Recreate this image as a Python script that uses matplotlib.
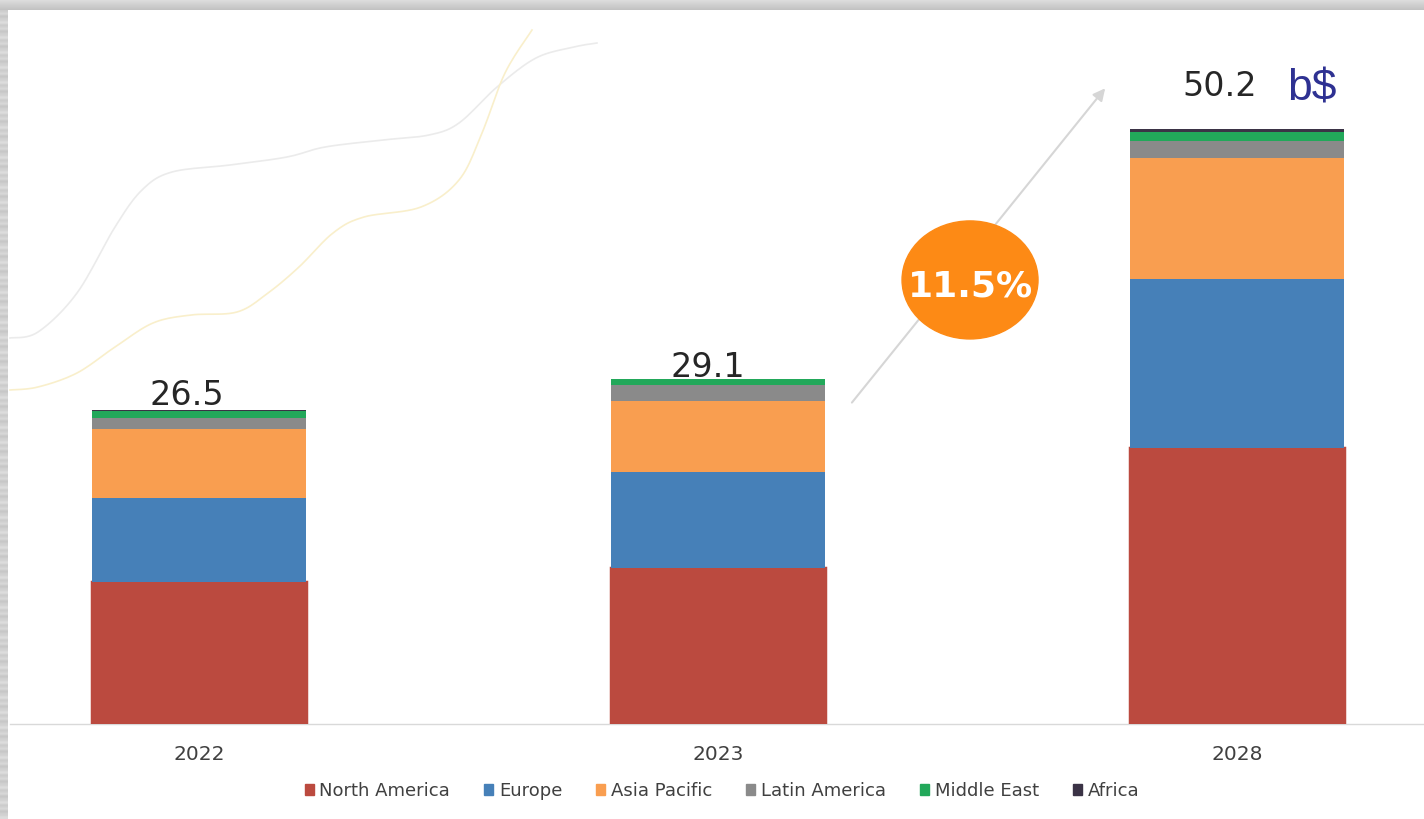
import numpy as np
import matplotlib
matplotlib.use("Agg")
import matplotlib.pyplot as plt
from matplotlib.patches import Ellipse, Patch

plt.rcParams['font.family'] = ['DejaVu Sans']

# market size by region, billion USD
years = ['2022', '2023', '2028']
north_america = [11.94, 13.14, 23.24]
europe = [7.13, 8.07, 14.25]
asia_pacific = [5.80, 6.05, 10.20]
latin_america = [0.93, 1.29, 1.48]
middle_east = [0.55, 0.50, 0.75]
africa = [0.15, 0.05, 0.28]
totals = [26.5, 29.1, 50.2]
cagr = '11.5%'
unit = 'b$'

regions = ['North America', 'Europe', 'Asia Pacific', 'Latin America', 'Middle East', 'Africa']
series = [north_america, europe, asia_pacific, latin_america, middle_east, africa]
colors = ['#bb4a3f', '#4680b8', '#f99e50', '#8a8a8a', '#22a85a', '#3b3346']

# faint swooshes in the background (figure pixels)
swoosh_grey = [(10, 338), (38, 332), (77, 293), (115, 227), (142, 190), (172, 172),
               (230, 165), (287, 157), (325, 147), (383, 140), (429, 135), (459, 123),
               (497, 87), (536, 58), (574, 47), (597, 43)]
swoosh_yellow = [(10, 390), (38, 387), (77, 373), (115, 347), (153, 323), (191, 315),
                 (237, 312), (268, 293), (299, 267), (333, 233), (364, 217), (421, 207),
                 (459, 180), (482, 133), (505, 73), (532, 30)]


def smooth(pts, n=12):
    # Catmull-Rom through the control points, just for the decoration
    p = np.array(pts, dtype=float)
    p = np.vstack([p[0], p, p[-1]])
    out = []
    for i in range(1, len(p) - 2):
        p0, p1, p2, p3 = p[i - 1], p[i], p[i + 1], p[i + 2]
        for t in np.linspace(0, 1, n, endpoint=False):
            out.append(0.5 * ((2 * p1) + (-p0 + p2) * t
                              + (2 * p0 - 5 * p1 + 4 * p2 - p3) * t ** 2
                              + (-p0 + 3 * p1 - 3 * p2 + p3) * t ** 3))
    out.append(p[-2])
    return np.array(out)


W, H = 1424, 819
fig = plt.figure(figsize=(W / 100, H / 100), dpi=100)

# background layer: frame strips and swooshes
bg = fig.add_axes([0, 0, 1, 1], zorder=0)
bg.set_xlim(0, W)
bg.set_ylim(H, 0)
bg.axis('off')
stripe = np.array([[0.78 + 0.08 * ((i * 7) % 5) / 4] for i in range(H // 3)])
bg.imshow(stripe, cmap='gray', vmin=0, vmax=1, extent=(0, 8, H, 0), aspect='auto')
bg.imshow(np.linspace(0.86, 0.76, 10).reshape(-1, 1) * np.ones((1, 4)), cmap='gray',
          vmin=0, vmax=1, extent=(0, W, 10, 0), aspect='auto')
g = smooth(swoosh_grey)
bg.plot(g[:, 0], g[:, 1], color='#ebebeb', lw=1.2)
y = smooth(swoosh_yellow)
bg.plot(y[:, 0], y[:, 1], color='#f9efcb', lw=1.2)

ax = fig.add_axes([10 / W, 95 / H, (W - 10) / W, 714 / H], zorder=1)
ax.patch.set_alpha(0)

x = np.arange(len(years))
bottom = np.zeros(len(years))
for name, vals, col in zip(regions, series, colors):
    lw = 2.5 if name == 'North America' else 0
    ax.bar(x, vals, 0.412, bottom=bottom, color=col, edgecolor=col, linewidth=lw,
           label=name, zorder=3)
    bottom += np.array(vals)

ax.set_xlim(-0.3642, 2.3603)
ax.set_ylim(0, 60.2)

# value labels over the stacks
label_offsets = [(-12, 5), (-10, 2), (-17, 33)]
for i, (tot, off) in enumerate(zip(totals, label_offsets)):
    ax.annotate(f'{tot:.1f}', (x[i], tot), xytext=off, textcoords='offset pixels',
                ha='center', va='baseline', fontsize=24, color='#262626')
ax.annotate(unit, (x[-1], totals[-1]), xytext=(50, 28), textcoords='offset pixels',
            ha='left', va='baseline', fontsize=32, color='#2e3192',
            family='Liberation Sans')

# growth arrow with CAGR badge
ax.annotate('', xy=(1.746, 53.6), xytext=(1.258, 27.1),
            arrowprops=dict(arrowstyle='-|>', color='#d6d6d6', lw=1.5,
                            mutation_scale=18, shrinkA=0, shrinkB=0), zorder=2)
ax.add_patch(Ellipse((1.4856, 37.44), 0.262, 9.95, color='#fd8a15', zorder=4))
ax.text(1.4856, 36.9, cagr, ha='center', va='center', fontsize=26, fontweight='bold',
        color='white', zorder=5)

ax.set_xticks(x)
ax.set_xticklabels(years, fontsize=14.5, color='#404040')
ax.tick_params(axis='x', length=0, pad=15)
ax.set_yticks([])
for s in ['top', 'right', 'left']:
    ax.spines[s].set_visible(False)
ax.spines['bottom'].set_color('#d9d9d9')
ax.spines['bottom'].set_linewidth(1)

handles = [Patch(color=c, label=r) for r, c in zip(regions, colors)]
fig.legend(handles=handles, loc='center', bbox_to_anchor=(722 / W, 1 - 791 / H),
           ncol=6, frameon=False, fontsize=13, handlelength=0.5, handleheight=0.5,
           handletextpad=0.3, columnspacing=1.9, labelcolor='#404040')

fig.savefig('out.png', dpi=100)
